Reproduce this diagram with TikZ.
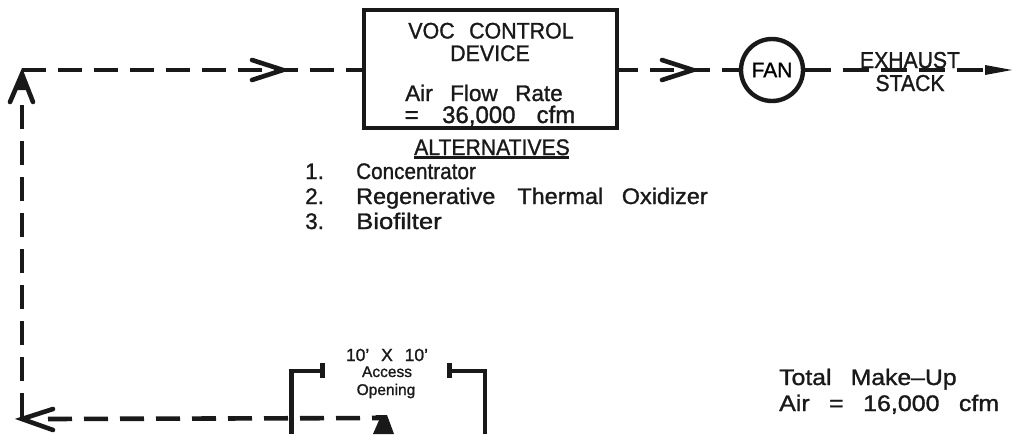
\documentclass[tikz,border=0pt]{standalone}
\usepackage{fontspec}
\setmainfont{Liberation Sans}[FakeBold=1.2]
\newcommand{\sx}[2]{\scalebox{#1}[1]{#2}}
\tikzset{
 x=1pt,y=-1pt,
 flow/.style={line width=4.6pt,dash pattern=on 24pt off 12pt,black!90},
 solidline/.style={line width=4.6pt,black!90},
 chev/.style={line width=4.6pt,black!90,line cap=round,line join=miter},
 boxed/.style={draw=black!90,line width=4.6pt,minimum width=253pt,minimum height=118pt,inner sep=0pt},
 fancirc/.style={draw=black!90,line width=4.4pt,circle,minimum size=62pt,inner sep=0pt,font=\fontsize{21}{21}\selectfont},
 lab/.style={inner sep=0pt,anchor=base,font=\fontsize{22.5}{24}\selectfont,text=black!90},
 labl/.style={lab,anchor=base west},
 small/.style={inner sep=0pt,anchor=base,text=black!90}
}
\begin{document}
\begin{tikzpicture}
\useasboundingbox (0,0) rectangle (1012,434);
\clip (0,0) rectangle (1012,434);
% main shapes
\node[boxed] (voc) at (490.5,69) {};
\node[fancirc] (fan) at (772,70) {FAN};
\coordinate (tl) at (22,70);
\coordinate (bl) at (22,419);
\coordinate (bt) at (385,418);
\coordinate (stackend) at (985,70);
% flow connectors
\draw[flow] (tl) -- (voc.west |- tl);
\draw[flow,dash phase=5pt] (voc.east |- fan) -- (fan.west);
\draw[flow,dash pattern=on 26pt off 12pt] (fan.east) -- (stackend);
\draw[flow] (22,105) -- (bl);
\draw[flow] (bl) ++(26,0) -- (bt);
% arrowheads
\coordinate (a1) at (283,70);
\draw[chev] (252,60) -- (a1) -- (252,80);
\coordinate (a2) at (693,70);
\draw[chev] (662,60) -- (a2) -- (662,80);
\draw[chev] (10,102) -- (22,74) -- (33,102);
\fill[black!90] (22,72) -- (15,90) -- (29,90) -- cycle;
\draw[chev] (53,409) -- (22,419) -- (53,430);
\fill[black!90] (1012,70) -- (985,65) -- (985,75) -- cycle;
\fill[black!90] (375,415) -- (387,415) -- (394,434) -- (373,434) -- (380,418) -- cycle;
% access opening walls
\coordinate (wl) at (291.5,371);
\coordinate (wr) at (485,371);
\draw[solidline,line join=miter] (291.5,434) -- (wl) -- (322,371);
\draw[solidline,line join=miter] (485,434) -- (wr) -- (449,371);
\draw[line width=5pt,black!90] (322.5,363) -- (322.5,378);
\draw[line width=5pt,black!90] (449,363) -- (449,378);
% box text
\node[lab] (t1) at (491,38.5) {\sx{0.95}{VOC\hspace{0.4em} CONTROL}};
\node[lab] (t2) at (490,61) {\sx{0.95}{DEVICE}};
\node[lab] (t3) at (484,101) {Air\hspace{0.5em} Flow\hspace{0.5em} Rate};
\node[lab,font=\fontsize{24}{24}\selectfont] (t4) at (490,123) {=\hspace{0.7em} 36,000\hspace{0.6em} cfm};
% alternatives
\node[lab] (alt) at (492,155) {\sx{0.94}{ALTERNATIVES}};
\draw[line width=2.2pt,black!90] (414,157.5) -- (569,157.5);
\node[labl] (n1) at (305,179) {1.};
\node[labl] (n2) at (305,204) {2.};
\node[labl] (n3) at (305,229) {3.};
\node[labl] (i1) at (356,179) {\sx{0.92}{Concentrator}};
\node[labl] (i2) at (356,204) {\sx{1.04}{Regenerative}\hspace{0.7em} \sx{1.04}{Thermal}\hspace{0.55em} \sx{1.04}{Oxidizer}};
\node[labl] (i3) at (356,229) {\sx{1.14}{Biofilter}};
% exhaust
\node[lab,font=\fontsize{23}{23}\selectfont] (ex) at (910,68) {\sx{0.92}{EXHAUST}};
\node[lab,font=\fontsize{23}{23}\selectfont] (st) at (910,91) {\sx{0.92}{STACK}};
% access text
\node[small,font=\fontsize{17.5}{17.5}\selectfont] (o1) at (387,361) {10'\hspace{0.4em} X\hspace{0.4em} 10'};
\node[small,font=\fontsize{15.5}{15.5}\selectfont] (o2) at (387,377) {Access};
\node[small,font=\fontsize{15.5}{15.5}\selectfont] (o3) at (386,395) {Opening};
% make-up
\node[labl] (m1) at (779,385) {\sx{1.1}{Total\hspace{0.5em} Make--Up}};
\node[labl] (m2) at (779,411) {\sx{1.11}{Air\hspace{0.5em} =\hspace{0.5em} 16,000\hspace{0.5em} cfm}};
\end{tikzpicture}
\end{document}
